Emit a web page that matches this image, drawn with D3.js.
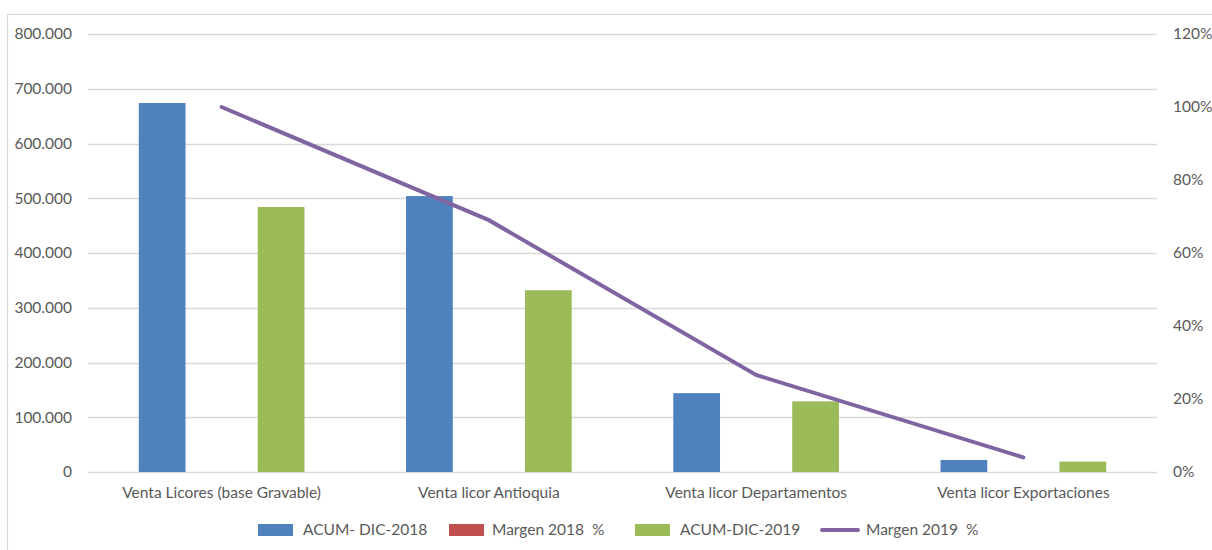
<!DOCTYPE html>
<html><head><meta charset="utf-8">
<script src="https://cdn.jsdelivr.net/npm/d3@7"></script>
<style>body{margin:0;background:#fff}text{font-family:Lato,"Open Sans",sans-serif;fill:#595959;white-space:pre}</style>
</head><body><svg id="c" width="1212" height="550"></svg>
<script>
const categories = ["Venta Licores (base Gravable)", "Venta licor Antioquia", "Venta licor Departamentos", "Venta licor Exportaciones"];
const acum2018 = [674000, 504000, 144000, 22000];
const margen2018 = [0, 0, 0, 0];
const acum2019 = [484000, 332000, 129000, 19000];
const margen2019 = [1.00, 0.69, 0.266, 0.04];
const leftTicks = [0, 100000, 200000, 300000, 400000, 500000, 600000, 700000, 800000];
const rightTicks = [0, 0.2, 0.4, 0.6, 0.8, 1.0, 1.2];
const seriesNames = ["ACUM- DIC-2018", "Margen 2018  %", "ACUM-DIC-2019", "Margen 2019  %"];
const colors = ["#4F81BD", "#C0504D", "#9BBB59", "#8064A2"];

const svg = d3.select("#c");
svg.append("rect").attr("x", 7.5).attr("y", 14.5).attr("width", 1210).attr("height", 540)
  .attr("fill", "none").attr("stroke", "#D9D9D9").attr("stroke-width", 1.2);

const L = 88, R = 1157, T = 34, B = 472;
const x = d3.scaleBand().domain(categories).range([L, R]);
const y = d3.scaleLinear().domain([0, 800000]).range([B, T]);
const y2 = d3.scaleLinear().domain([0, 1.2]).range([B, T]);
const inner = d3.scaleBand().domain([0, 1, 2]).range([0, x.bandwidth()]).paddingInner(0.214).paddingOuter(0.854);

const fmt = d3.formatLocale({decimal: ",", thousands: ".", grouping: [3], currency: ["", ""]}).format(",.0f");
const FS = 15.5;

// grid
svg.append("g").selectAll("line").data(leftTicks).join("line")
  .attr("x1", L).attr("x2", R).attr("y1", d => Math.round(y(d)) + 0.5).attr("y2", d => Math.round(y(d)) + 0.5)
  .attr("stroke", "#D9D9D9").attr("stroke-width", 1.3);

// left axis
const la = svg.append("g").attr("transform", `translate(${L},0)`)
  .call(d3.axisLeft(y).tickValues(leftTicks).tickFormat(d => d === 0 ? "0" : fmt(d)).tickSize(0).tickPadding(16));
la.select(".domain").remove();
la.selectAll("text").attr("font-size", FS).style("fill", "#595959").style("font-family", "Lato");

// right axis
const ra = svg.append("g").attr("transform", `translate(${R},0)`)
  .call(d3.axisRight(y2).tickValues(rightTicks).tickFormat(d3.format(".0%")).tickSize(0).tickPadding(16));
ra.select(".domain").remove();
ra.selectAll("text").attr("font-size", FS).style("fill", "#595959").style("font-family", "Lato");

// bottom axis
const ba = svg.append("g").attr("transform", `translate(0,${B})`)
  .call(d3.axisBottom(x).tickSize(0).tickPadding(15));
ba.select(".domain").remove();
ba.selectAll("text").attr("font-size", FS).style("fill", "#595959").style("font-family", "Lato");

// bars
const barSeries = [acum2018, margen2018, acum2019];
barSeries.forEach((vals, si) => {
  svg.append("g").selectAll("rect").data(vals).join("rect")
    .attr("x", (d, i) => x(categories[i]) + inner(si))
    .attr("width", inner.bandwidth())
    .attr("y", d => y(d))
    .attr("height", d => B - y(d))
    .attr("fill", colors[si]);
});

// line
const line = d3.line().x((d, i) => x(categories[i]) + x.bandwidth() / 2).y(d => y2(d));
svg.append("path").datum(margen2019).attr("d", line)
  .attr("fill", "none").attr("stroke", colors[3]).attr("stroke-width", 4).attr("stroke-linecap", "round");

// legend
const lg = svg.append("g");
const legendX = [258, 449, 635, 820];
seriesNames.forEach((name, i) => {
  const g = lg.append("g").attr("transform", `translate(${legendX[i]},530)`);
  if (i < 3) {
    g.append("rect").attr("x", 0).attr("y", -6).attr("width", 35).attr("height", 12).attr("fill", colors[i]);
    g.append("text").attr("x", i === 1 ? 43 : 45).attr("y", 0).attr("dy", "0.35em").attr("font-size", FS).text(name);
  } else {
    g.append("line").attr("x1", 2).attr("x2", 38).attr("y1", 0).attr("y2", 0)
      .attr("stroke", colors[3]).attr("stroke-width", 4).attr("stroke-linecap", "round");
    g.append("text").attr("x", 46).attr("y", 0).attr("dy", "0.35em").attr("font-size", FS).text(name);
  }
});
</script></body></html>
